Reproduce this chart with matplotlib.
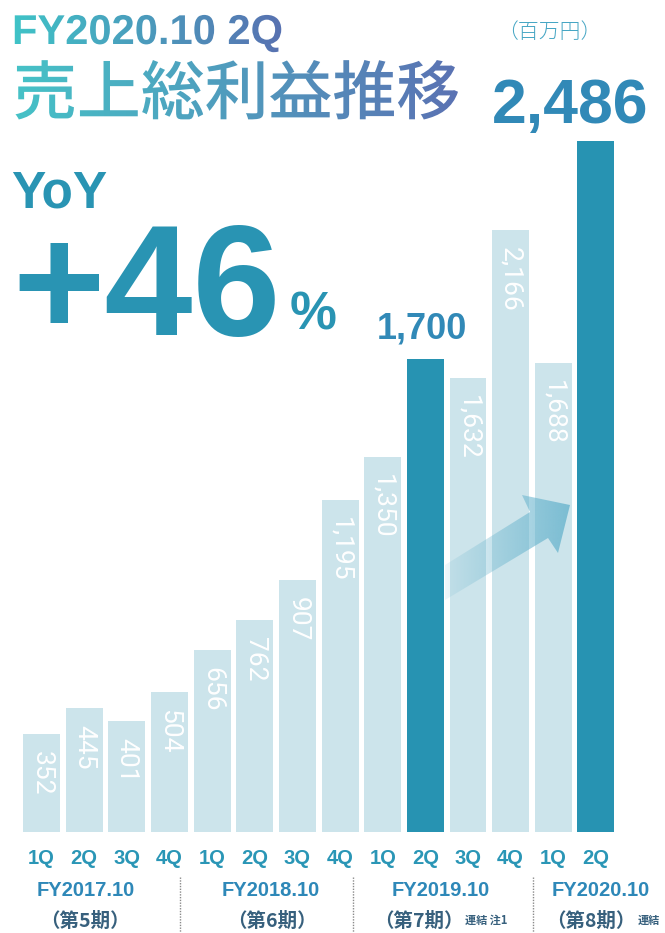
import numpy as np
import matplotlib
matplotlib.use("Agg")
import matplotlib.pyplot as plt
from matplotlib.patches import Polygon
from matplotlib.patheffects import AbstractPathEffect
from matplotlib.transforms import TransformedPath
from matplotlib.colors import to_rgb

# ---- data (gross profit, million yen) ----
quarters = ['1Q', '2Q', '3Q', '4Q', '1Q', '2Q', '3Q', '4Q',
            '1Q', '2Q', '3Q', '4Q', '1Q', '2Q']
values = [352, 445, 401, 504, 656, 762, 907, 1195, 1350, 1700, 1632, 2166, 1688, 2486]
highlight = [9, 13]
fiscal_years = ['FY2017.10', 'FY2018.10', 'FY2019.10', 'FY2020.10']
periods = ['（第5期）', '（第6期）', '（第7期）', '（第8期）']
notes = ['', '', '連結 注1', '連結']
title_top = 'FY2020.10 2Q'
title_main = '売上総利益推移'
unit_label = '（百万円）'
yoy_label = 'YoY'
yoy_value = '+46'

W, H = 665, 933
LIGHT = '#cce4eb'
DARK = '#2793b2'
TEAL = '#2994b3'
NUM = '#3189b7'


class GradientFill(AbstractPathEffect):
    """Fill a text path with a left-to-right colour gradient."""

    def __init__(self, c0, c1):
        super().__init__()
        self.c0 = np.array(to_rgb(c0))
        self.c1 = np.array(to_rgb(c1))

    def draw_path(self, renderer, gc, tpath, affine, rgbFace=None):
        bb = affine.transform_path(tpath).get_extents()
        x0, y0 = int(np.floor(bb.x0)) - 1, int(np.floor(bb.y0)) - 1
        w = int(np.ceil(bb.x1)) - x0 + 2
        h = int(np.ceil(bb.y1)) - y0 + 2
        t = np.linspace(0, 1, w)[:, None]
        rgb = (1 - t) * self.c0 + t * self.c1
        img = np.empty((h, w, 4), dtype=np.uint8)
        img[..., :3] = (rgb[None, :, :] * 255).astype(np.uint8)
        img[..., 3] = 255
        gc2 = renderer.new_gc()
        gc2.copy_properties(gc)
        gc2.set_clip_path(TransformedPath(tpath, affine))
        renderer.draw_image(gc2, x0, y0, img)
        gc2.restore()


fig = plt.figure(figsize=(W / 100, H / 100), dpi=100)
fig.patch.set_facecolor('white')

# pixel geometry of the bar axes
x0_px, step_px = 41.5, 42.65
base_px, top_px = 832.0, 141.0
scale = (base_px - top_px) / max(values)


def xd(px):
    return (px - x0_px) / step_px


def yd(py):
    return (base_px - py) / scale


ax = fig.add_axes([0, 0, 1, 1])
ax.set_xlim(xd(0), xd(W))
ax.set_ylim(yd(H), yd(0))
ax.axis('off')

idx = np.arange(len(values))
colors = [DARK if i in highlight else LIGHT for i in idx]
ax.bar(idx, values, width=0.867, color=colors, zorder=2)

for i, v in enumerate(values):
    if i in highlight:
        continue
    ax.text(i, v - 17 / scale, f'{v:,}', rotation=-90, ha='center', va='top',
            color='white', fontsize=19, zorder=3,
            family=['Roboto', 'DejaVu Sans'], fontweight='normal')

bold_latin = ['Liberation Sans', 'DejaVu Sans']
# callouts above highlighted bars
ax.text(9 - 0.07, values[9] + 21 / scale, f'{values[9]:,}', ha='center', va='baseline',
        color=NUM, fontsize=26, fontweight='bold', family=bold_latin, zorder=4)
ax.text(13 - 0.6, values[13] + 18 / scale, f'{values[13]:,}', ha='center', va='baseline',
        color=NUM, fontsize=45, fontweight='bold', family=bold_latin, zorder=4)

# quarter labels under the bars
for i, q in enumerate(quarters):
    ax.text(i, yd(859), q, ha='center', va='center', color='#2a96b6',
            fontsize=14.5, fontweight='bold', family=bold_latin)

# ---- overlay in pixel coordinates ----
axp = fig.add_axes([0, 0, 1, 1])
axp.patch.set_alpha(0)
axp.axis('off')

axp.text(12, 44, title_top, ha='left', va='baseline', fontsize=30,
         fontweight='bold', family=bold_latin,
         path_effects=[GradientFill('#3fc3c7', '#5871b1')])
axp.text(13, 114, title_main, ha='left', va='baseline', fontsize=46,
         fontweight='medium', family=['Noto Sans CJK JP'],
         path_effects=[GradientFill('#46c2c7', '#5b72b3')])

axp.text(549, 32, unit_label, ha='center', va='center', fontsize=15,
         color='#46a6c4', family=['Noto Sans CJK JP'], fontweight='light')

axp.text(11, 207, yoy_label, ha='left', va='baseline', fontsize=37,
         fontweight='bold', color=TEAL, family=bold_latin)
axp.text(12, 335, yoy_value, ha='left', va='baseline', fontsize=114,
         fontweight='bold', color=TEAL, family=bold_latin)
axp.text(290, 329, '%', ha='left', va='baseline', fontsize=38,
         fontweight='bold', color=TEAL, family=bold_latin)

# growth arrow with fading fill
arrow_pts = [(445, 600), (548, 538), (558, 553), (570, 505),
             (522, 495), (530, 512), (445, 565)]
arrow = Polygon(arrow_pts, closed=True, facecolor='none', edgecolor='none')
axp.add_patch(arrow)
rgba = np.zeros((1, 256, 4))
rgba[..., 0:3] = np.array([100, 178, 204]) / 255
rgba[..., 3] = np.linspace(0.1, 0.78, 256)
im = axp.imshow(rgba, extent=[445, 570, 600, 495], aspect='auto',
                interpolation='bilinear', zorder=3)
im.set_clip_path(arrow)

# fiscal year group labels
fy_x = [86, 271, 441, 601]
per_x = [85, 272, 419, 591]
note_x = [None, None, 465, 638]
for fy, fx, per, ppx, note, nx in zip(fiscal_years, fy_x, periods, per_x, notes, note_x):
    axp.text(fx, 891, fy, ha='center', va='center', fontsize=14.5,
             fontweight='bold', color='#2e88b8', family=bold_latin)
    axp.text(ppx, 921, per, ha='center', va='center', fontsize=14,
             fontweight='bold', color='#37607d',
             family=['Noto Sans CJK JP', 'DejaVu Sans'])
    if note:
        axp.text(nx, 920, note, ha='left', va='center', fontsize=8,
                 fontweight='bold', color='#37607d',
                 family=['Noto Sans CJK JP', 'DejaVu Sans'])

for sx in [180, 353, 533]:
    axp.plot([sx, sx], [877, H], ls=(0, (1, 1)), color='#8a8a8a', lw=1)

axp.set_xlim(0, W)
axp.set_ylim(H, 0)

fig.savefig('out.png', dpi=100, facecolor='white')
